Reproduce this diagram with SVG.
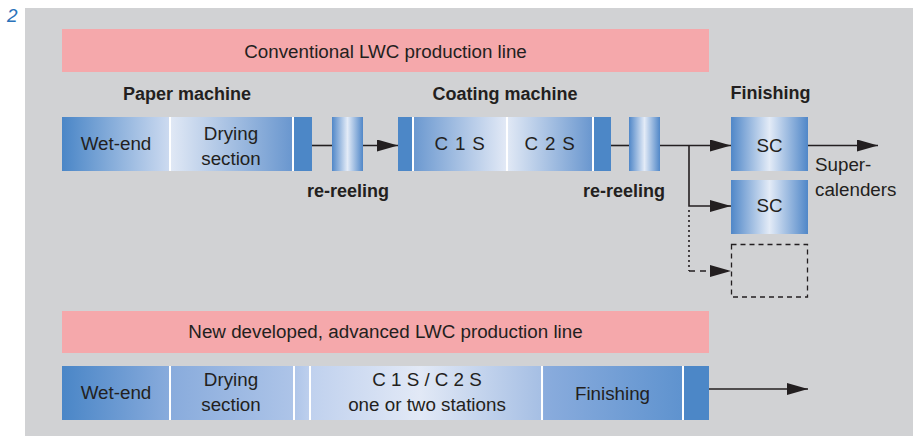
<svg xmlns="http://www.w3.org/2000/svg" width="913" height="436" viewBox="0 0 913 436">
<style>
text{font-family:"Liberation Sans",Arial,sans-serif;fill:#231f20}
.r{font-size:18.8px}
.b{font-size:18px;font-weight:bold}
.c{text-anchor:middle}
.ln{stroke:#231f20;stroke-width:1.6;fill:none}
.gap{fill:#ffffff}
.dark{fill:#4c87c7}
</style>
<defs>
<linearGradient id="gDL" x1="0" y1="0" x2="1" y2="0"><stop offset="0" stop-color="#4a86c7"/><stop offset="1" stop-color="#ccdaf0"/></linearGradient>
<linearGradient id="gLD" x1="0" y1="0" x2="1" y2="0"><stop offset="0" stop-color="#e0e8f5"/><stop offset="1" stop-color="#6a97cf"/></linearGradient>
<linearGradient id="gC1" x1="0" y1="0" x2="1" y2="0"><stop offset="0" stop-color="#6c99d0"/><stop offset="1" stop-color="#e2e9f6"/></linearGradient>
<linearGradient id="gMid" x1="0" y1="0" x2="1" y2="0"><stop offset="0" stop-color="#5087c8"/><stop offset="0.5" stop-color="#e3ebf7"/><stop offset="1" stop-color="#5087c8"/></linearGradient>
<linearGradient id="gRow" gradientUnits="userSpaceOnUse" x1="62" y1="0" x2="709" y2="0">
<stop offset="0" stop-color="#4a86c7"/><stop offset="0.165" stop-color="#88abdc"/><stop offset="0.357" stop-color="#adc4e8"/><stop offset="0.386" stop-color="#c0d1ee"/><stop offset="0.553" stop-color="#e2e9f6"/><stop offset="0.74" stop-color="#a6bfe4"/><stop offset="0.745" stop-color="#8aacdd"/><stop offset="0.957" stop-color="#5f93cf"/><stop offset="1" stop-color="#4a86c7"/>
</linearGradient>
<marker id="ah" viewBox="0 0 21 12" refX="21" refY="6" markerWidth="21" markerHeight="12" markerUnits="userSpaceOnUse" orient="auto"><path d="M0,0 L21,6 L0,12 z" fill="#231f20"/></marker>
</defs>
<rect x="0" y="0" width="913" height="436" fill="#ffffff"/>
<rect x="25" y="8" width="888" height="428" fill="#d1d2d4"/>
<text x="7" y="22" style="font-size:19px;font-style:italic;fill:#2a72ba">2</text>

<g id="conv-title">
<rect x="62" y="29" width="647" height="43" fill="#f5a8ab"/>
<text class="r c" x="385.5" y="58">Conventional LWC production line</text>
</g>
<g id="labels">
<text class="b c" x="187" y="100">Paper machine</text>
<text class="b c" x="505" y="100">Coating machine</text>
<text class="b c" x="770.5" y="99">Finishing</text>
</g>

<g id="paper-machine">
<rect x="62" y="117" width="107" height="54" fill="url(#gDL)"/>
<rect class="gap" x="169" y="117" width="2" height="54"/>
<rect x="171" y="117" width="121" height="54" fill="url(#gLD)"/>
<rect class="gap" x="292" y="117" width="2" height="54"/>
<rect class="dark" x="294" y="117" width="18" height="54"/>
<text class="r c" x="116" y="150">Wet-end</text>
<text class="r c" x="231" y="140">Drying</text>
<text class="r c" x="231" y="165">section</text>
</g>
<g id="rereel-1">
<rect x="332" y="117" width="31" height="54" fill="url(#gMid)"/>
<text class="b" x="307" y="197">re-reeling</text>
</g>
<g id="coating-machine">
<rect class="dark" x="398" y="117" width="14" height="54"/>
<rect class="gap" x="412" y="117" width="2" height="54"/>
<rect x="414" y="117" width="92" height="54" fill="url(#gC1)"/>
<rect class="gap" x="506" y="117" width="2" height="54"/>
<rect x="508" y="117" width="84" height="54" fill="url(#gLD)"/>
<rect class="gap" x="592" y="117" width="2" height="54"/>
<rect class="dark" x="594" y="117" width="17" height="54"/>
<text class="r c" x="460" y="150" style="letter-spacing:0.8px">C 1 S</text>
<text class="r c" x="550" y="150" style="letter-spacing:0.8px">C 2 S</text>
</g>
<g id="rereel-2">
<rect x="629" y="117" width="31" height="54" fill="url(#gMid)"/>
<text class="b" x="583" y="197">re-reeling</text>
</g>
<g id="sc-1">
<rect x="731" y="117" width="77" height="54" fill="url(#gMid)"/>
<text class="r c" x="769.5" y="152">SC</text>
</g>
<g id="sc-2">
<rect x="731" y="180" width="77" height="54" fill="url(#gMid)"/>
<text class="r c" x="769.5" y="212">SC</text>
</g>
<g id="sc-optional">
<rect x="731.5" y="244.5" width="76" height="52.5" fill="none" stroke="#231f20" stroke-width="1.3" stroke-dasharray="5,4"/>
</g>
<g id="supercalenders-label">
<text class="r" x="815" y="171">Super-</text>
<text class="r" x="815" y="196">calenders</text>
</g>

<g id="new-title">
<rect x="62" y="311" width="647" height="42" fill="#f5a8ab"/>
<text class="r c" x="385.5" y="338">New developed, advanced LWC production line</text>
</g>
<g id="new-line">
<rect x="62" y="366" width="647" height="54" fill="url(#gRow)"/>
<rect class="dark" x="684" y="366" width="25" height="54"/>
<rect class="gap" x="169" y="366" width="2" height="54"/>
<rect class="gap" x="293" y="366" width="2" height="54"/>
<rect class="gap" x="309" y="366" width="2" height="54"/>
<rect class="gap" x="541" y="366" width="2" height="54"/>
<rect class="gap" x="682" y="366" width="2" height="54"/>
<text class="r c" x="116" y="399">Wet-end</text>
<text class="r c" x="231" y="386">Drying</text>
<text class="r c" x="231" y="411">section</text>
<text class="r c" x="427" y="386">C 1 S / C 2 S</text>
<text class="r c" x="427" y="411">one or two stations</text>
<text class="r c" x="612.5" y="400">Finishing</text>
</g>

<g id="connectors">
<line class="ln" x1="312" y1="145.5" x2="332" y2="145.5"/>
<line class="ln" x1="363" y1="145.5" x2="398" y2="145.5" marker-end="url(#ah)"/>
<line class="ln" x1="611" y1="145.5" x2="629" y2="145.5"/>
<line class="ln" x1="660" y1="145.5" x2="731" y2="145.5" marker-end="url(#ah)"/>
<line class="ln" x1="808" y1="145.5" x2="878" y2="145.5" marker-end="url(#ah)"/>
<polyline class="ln" points="689,145.5 689,206 731,206" stroke-width="2" marker-end="url(#ah)"/>
<line class="ln" x1="689" y1="210" x2="689" y2="271" stroke-width="2" stroke-dasharray="2,3"/>
<line class="ln" x1="689" y1="271" x2="731" y2="271" stroke-dasharray="6,5" marker-end="url(#ah)"/>
<line class="ln" x1="709" y1="389" x2="808" y2="389" stroke="#4d4d4f" stroke-width="2" marker-end="url(#ah)"/>
</g>
</svg>
